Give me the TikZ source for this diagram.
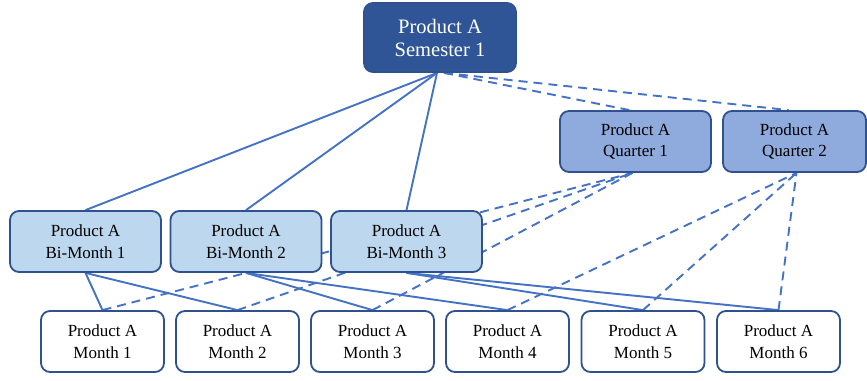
\documentclass[tikz,border=0pt]{standalone}
\usepackage{fontspec}
\setmainfont{Liberation Serif}
\usetikzlibrary{positioning,backgrounds}
\definecolor{linkblue}{HTML}{4472C4}
\definecolor{darkblue}{HTML}{2F5597}
\definecolor{edgeblue}{HTML}{2F528F}
\definecolor{midblue}{HTML}{8FAADC}
\definecolor{paleblue}{HTML}{BDD7EE}

\begin{document}
\begin{tikzpicture}[x=1pt,y=-1pt,
		box/.style={draw=edgeblue,line width=1.8pt,rounded corners=9pt,align=center,inner sep=0pt,
			minimum width=151pt,minimum height=61pt,font=\fontsize{17}{21.5}\selectfont},
		sem/.style={box,fill=darkblue,text=white,minimum width=152pt,minimum height=69pt,font=\fontsize{20.5}{23}\selectfont},
		quarter/.style={box,fill=midblue},
		bimonth/.style={box,fill=paleblue},
		month/.style={box,fill=white,minimum width=123pt},
		link/.style={draw=linkblue,line width=1.9pt},
		dlink/.style={link,dash pattern=on 9pt off 6pt}
		]
		
		\useasboundingbox (0,0) rectangle (867,380);
		
		% --- Semester and quarters
		\node[sem] (sem) at (440,37.5) {Product A\\Semester 1};
		\node[quarter] (q1) at (635.5,141.5) {Product A\\Quarter 1};
		\node[quarter,minimum width=143pt] (q2) at (794.5,141.5) {Product A\\Quarter 2};
		
		% --- Bi-months
		\node[bimonth] (b1) at (85.5,241.5) {Product A\\Bi-Month 1};
		\node[bimonth] (b2) at (246,241.5) {Product A\\Bi-Month 2};
		\node[bimonth] (b3) at (406.5,241.5) {Product A\\Bi-Month 3};
		
		% --- Months
		\node[month] (m1) at (102.5,341.5) {Product A\\Month 1};
		\node[month] (m2) at (237.5,341.5) {Product A\\Month 2};
		\node[month] (m3) at (372.5,341.5) {Product A\\Month 3};
		\node[month] (m4) at (507.5,341.5) {Product A\\Month 4};
		\node[month] (m5) at (643,341.5) {Product A\\Month 5};
		\node[month] (m6) at (778.5,341.5) {Product A\\Month 6};
		
		% --- Links, kept behind the boxes
		\begin{pgfonlayer}{background}
			\foreach \b in {b1,b2,b3}
			\draw[link] ([xshift=-3pt]sem.south) -- (\b.north);
			\foreach \q in {q1,q2}
			\draw[dlink] ([xshift=4pt]sem.south) -- ([xshift=-6pt]\q.north);
			
			\draw[link] (b1.south) -- (m1.north);
			\draw[link] (b1.south) -- (m2.north);
			\draw[link] (b2.south) -- (m3.north);
			\draw[link] (b2.south) -- (m4.north);
			\draw[link] (b3.south) -- (m5.north);
			\draw[link] (b3.south) -- (m6.north);
			
			\foreach \m in {m1,m2,m3}
			\draw[dlink] (\m.north) -- ([xshift=-3pt]q1.south);
			\foreach \m in {m4,m5,m6}
			\draw[dlink] (\m.north) -- ([xshift=2pt]q2.south);
		\end{pgfonlayer}
		
	\end{tikzpicture}
\end{document}
